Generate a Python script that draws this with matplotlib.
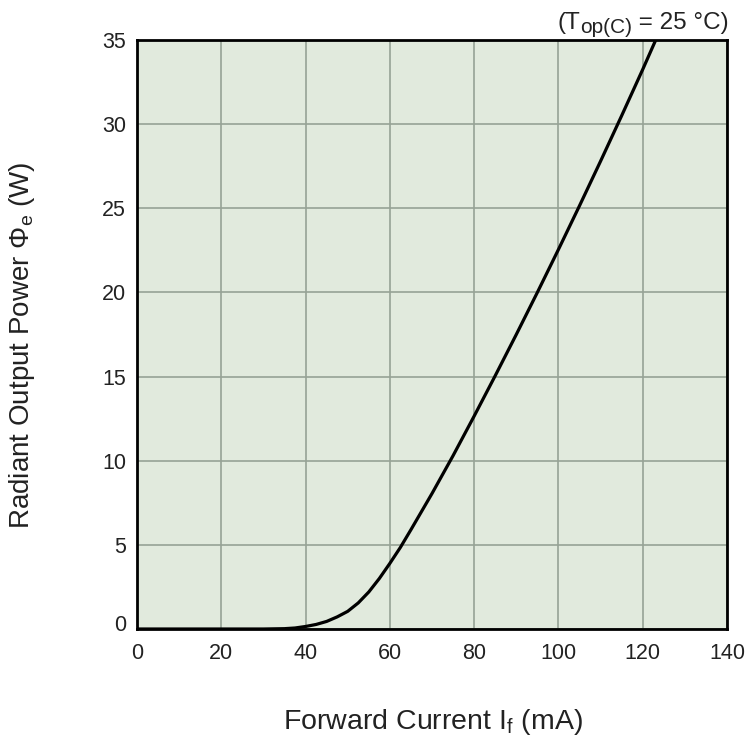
import matplotlib
matplotlib.use("Agg")
import matplotlib.pyplot as plt
import matplotlib.transforms as mtransforms

plt.rcParams['font.family'] = ['Liberation Sans', 'DejaVu Sans']
plt.rcParams['mathtext.fontset'] = 'custom'
plt.rcParams['mathtext.rm'] = 'Liberation Sans'
plt.rcParams['mathtext.it'] = 'Liberation Sans'
plt.rcParams['mathtext.bf'] = 'Liberation Sans:bold'

# Data
current_ma = [0, 30, 35, 37.5, 40, 42.5, 45, 47.5, 50, 52.5, 55, 57.5, 60, 62.5, 65,
              70, 75, 80, 85, 90, 95, 100, 105, 110, 115, 120, 123]
power_w = [0, 0, 0.02, 0.06, 0.15, 0.27, 0.45, 0.72, 1.05, 1.55, 2.2, 3.0, 3.9, 4.85, 5.9,
           8.05, 10.3, 12.65, 15.05, 17.5, 20.0, 22.55, 25.15, 27.8, 30.5, 33.25, 34.95]
x_ticks = [0, 20, 40, 60, 80, 100, 120, 140]
y_ticks = [0, 5, 10, 15, 20, 25, 30, 35]

TXT = '#222222'
fig = plt.figure(figsize=(7.51, 7.41), dpi=100)
ax = fig.add_axes([137/751, 1-629/741, (727-137)/751, (629-40)/741])
ax.set_facecolor('#e1eadd')
ax.plot(current_ma, power_w, color='black', lw=2.3, solid_joinstyle='round', zorder=3)
ax.set_xlim(0, 140)
ax.set_ylim(0, 35)
ax.set_xticks(x_ticks)
ax.set_yticks(y_ticks)
ax.grid(True, color='#96a296', lw=1.2)
ax.set_axisbelow(True)
for s in ax.spines.values():
    s.set_linewidth(2.0)
    s.set_color('black')
    s.set_zorder(4)
ax.tick_params(length=0, labelsize=15.5, colors=TXT)
ax.tick_params(axis='x', pad=10)
ax.tick_params(axis='y', pad=8)

# lift the "0" label on the y axis slightly, as in the reference
lbl0 = ax.get_yticklabels()[0]
lbl0.set_transform(lbl0.get_transform() + mtransforms.ScaledTranslation(0, 6/100, fig.dpi_scale_trans))

fig.text(433/751, 1-722/741, r'Forward Current I$_{\mathrm{f}}$ (mA)', ha='center', va='center',
         fontsize=20.5, color=TXT)
fig.text(22/751, 1-345/741, r'Radiant Output Power $\Phi_{\mathrm{e}}$ (W)', ha='center', va='center',
         rotation=90, fontsize=20, color=TXT)

# condition note at the top right, built from pieces (subscript nearly full size)
renderer = fig.canvas.get_renderer()
x_right = 729 / 751
y_base = 1 - 29 / 741
t3 = fig.text(x_right, y_base, ' = 25 °C)', ha='right', va='baseline', fontsize=17.5, color=TXT)
w3 = t3.get_window_extent(renderer).width / 751
t2 = fig.text(x_right - w3, y_base - 4/741, 'op(C)', ha='right', va='baseline', fontsize=15, color=TXT)
w2 = t2.get_window_extent(renderer).width / 751
fig.text(x_right - w3 - w2, y_base, '(T', ha='right', va='baseline', fontsize=17.5, color=TXT)

fig.savefig('out.png', dpi=100)
